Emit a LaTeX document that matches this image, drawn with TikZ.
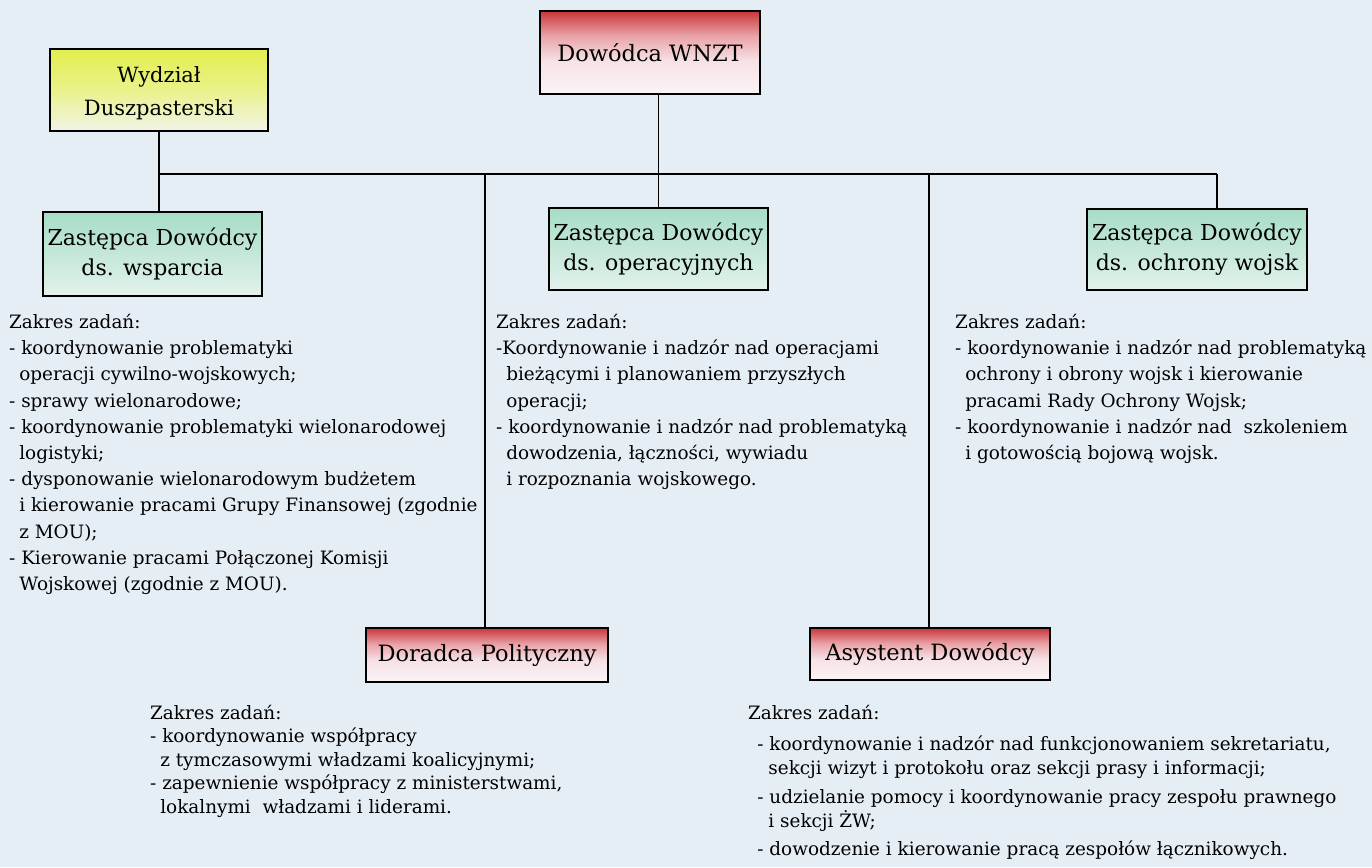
\documentclass[tikz,border=0pt]{standalone}
\usepackage{fontspec}
\setmainfont{DejaVu Serif}
\definecolor{paper}{HTML}{E5EDF5}
\definecolor{rtop}{HTML}{C8363A}
\definecolor{rmid}{HTML}{E9A3A8}
\definecolor{rlow}{HTML}{F6E2E6}
\definecolor{rbot}{HTML}{FBF4F6}
\definecolor{ytop}{HTML}{E2EE4E}
\definecolor{ymid}{HTML}{EAF28A}
\definecolor{ybot}{HTML}{F1F4E8}
\definecolor{gtop}{HTML}{A6DDC6}
\definecolor{gbot}{HTML}{E3F2EC}
\pgfdeclareverticalshading{redfade}{100bp}{color(0bp)=(rbot); color(25bp)=(rbot);
  color(45bp)=(rlow); color(60bp)=(rmid); color(75bp)=(rtop); color(100bp)=(rtop)}
\pgfdeclareverticalshading{yellowfade}{100bp}{color(0bp)=(ybot); color(25bp)=(ybot);
  color(50bp)=(ymid); color(75bp)=(ytop); color(100bp)=(ytop)}
\pgfdeclareverticalshading{greenfade}{100bp}{color(0bp)=(gbot); color(25bp)=(gbot);
  color(75bp)=(gtop); color(100bp)=(gtop)}
\tikzset{
  unitbox/.style={draw=black, line width=1.4pt, inner sep=0pt, align=center},
  redbox/.style={unitbox, shading=redfade, font=\fontsize{22.5}{26}\selectfont},
  yellowbox/.style={unitbox, shading=yellowfade},
  greenbox/.style={unitbox, shading=greenfade, font=\fontsize{22}{30}\selectfont},
  boxtext/.style={align=center, inner sep=0pt, font=\fontsize{21}{33}\selectfont},
  duties/.style={anchor=north west, align=left, inner sep=0pt,
    font=\fontsize{18.4}{26.2}\selectfont},
  link/.style={draw=black, line width=1.3pt}
}
\newcommand{\cont}{\hspace*{0.55em}}
\begin{document}
\begin{tikzpicture}[x=1pt,y=-1pt]
\useasboundingbox (0,0) rectangle (1372,867);
\fill[paper] (0,0) rectangle (1372,867);

% boxes
\node[redbox, minimum width=220pt, minimum height=83pt] (dow) at (650,52.5) {Dowódca WNZT};
\node[yellowbox, minimum width=218pt, minimum height=82pt] (wyd) at (159,90) {};
\node[boxtext] (wydtxt) at ([yshift=-3.5pt]wyd.center) {Wydział\\Duszpasterski};
\node[greenbox, minimum width=219pt, minimum height=84pt] (zw) at (152.5,254) {Zastępca Dowódcy\\ds. wsparcia};
\node[greenbox, minimum width=219pt, minimum height=82pt] (zo) at (658.5,249) {Zastępca Dowódcy\\ds. operacyjnych};
\node[greenbox, minimum width=220pt, minimum height=81pt] (zoch) at (1197,249.5) {Zastępca Dowódcy\\ds. ochrony wojsk};
\node[redbox, minimum width=242pt, minimum height=54pt] (dor) at (487,655) {Doradca Polityczny};
\node[redbox, minimum width=240pt, minimum height=52pt] (asy) at (930,654) {Asystent Dowódcy};

% bus line
\coordinate (busL) at (159,174);
\coordinate (busR) at (1217,174);
\draw[link] (busL) -- (busR);
\draw[link] (wyd.south) -- (wyd.south |- zw.north);
\draw[link] (zo.north) -- (zo.north |- dow.south);
\draw[link] (zoch.north -| busR) -- (busR);
\draw[link] (dor.north -| 485,0) -- (485,174);
\draw[link] (asy.north -| 929,0) -- (929,174);

% duties
\node[duties] (twsp) at (9,314) {Zakres zadań:\\
- koordynowanie problematyki\\
\cont operacji cywilno-wojskowych;\\
- sprawy wielonarodowe;\\
- koordynowanie problematyki wielonarodowej\\
\cont logistyki;\\
- dysponowanie wielonarodowym budżetem\\
\cont i kierowanie pracami Grupy Finansowej (zgodnie\\
\cont z MOU);\\
- Kierowanie pracami Połączonej Komisji\\
\cont Wojskowej (zgodnie z MOU).};

\node[duties] (tops) at (496,314) {Zakres zadań:\\
-Koordynowanie i nadzór nad operacjami\\
\cont bieżącymi i planowaniem przyszłych\\
\cont operacji;\\
- koordynowanie i nadzór nad problematyką\\
\cont dowodzenia, łączności, wywiadu\\
\cont i rozpoznania wojskowego.};

\node[duties] (toch) at (955,314) {Zakres zadań:\\
- koordynowanie i nadzór nad problematyką\\
\cont ochrony i obrony wojsk i kierowanie\\
\cont pracami Rady Ochrony Wojsk;\\
- koordynowanie i nadzór nad\ \ szkoleniem\\
\cont i gotowością bojową wojsk.};

\node[duties, font=\fontsize{18.4}{23.5}\selectfont] (tdor) at (150,705) {Zakres zadań:\\
- koordynowanie współpracy\\
\cont z tymczasowymi władzami koalicyjnymi;\\
- zapewnienie współpracy z ministerstwami,\\
\cont lokalnymi\ \ władzami i liderami.};

\node[duties, font=\fontsize{18.4}{23.5}\selectfont] (tasy) at (748,705) {Zakres zadań:\\[8pt]
\hspace*{0.5em}- koordynowanie i nadzór nad funkcjonowaniem sekretariatu,\\
\hspace*{1.1em}sekcji wizyt i protokołu oraz sekcji prasy i informacji;\\[6pt]
\hspace*{0.5em}- udzielanie pomocy i koordynowanie pracy zespołu prawnego\\
\hspace*{1.1em}i sekcji ŻW;\\[5pt]
\hspace*{0.5em}- dowodzenie i kierowanie pracą zespołów łącznikowych.};
\end{tikzpicture}
\end{document}
